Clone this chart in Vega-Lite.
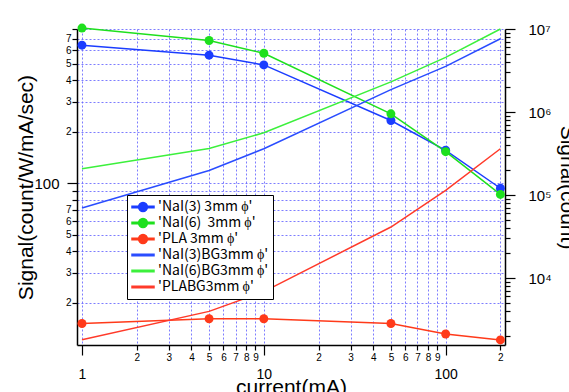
{
  "$schema": "https://vega.github.io/schema/vega-lite/v6.json",
  "width": 428,
  "height": 316,
  "autosize": "none",
  "padding": {"left": 77, "top": 29, "right": 64, "bottom": 47},
  "background": "white",
  "config": {
    "view": {"stroke": null},
    "axis": {
      "domainColor": "black",
      "domainWidth": 1.5,
      "tickColor": "black",
      "tickWidth": 1.2,
      "labelColor": "black",
      "labelFont": "Liberation Sans",
      "titleFont": "Liberation Sans",
      "titleFontWeight": "normal",
      "titleColor": "black",
      "gridColor": "#6666ff",
      "gridDash": [2, 2],
      "gridWidth": 1,
      "gridOpacity": 0.85
    }
  },
  "layer": [
    {
      "data": {
        "values": [
          {"current": 1, "signal": 643, "series": "'NaI(3) 3mm ϕ'"},
          {"current": 5, "signal": 562, "series": "'NaI(3) 3mm ϕ'"},
          {"current": 10, "signal": 493, "series": "'NaI(3) 3mm ϕ'"},
          {"current": 50, "signal": 233, "series": "'NaI(3) 3mm ϕ'"},
          {"current": 100, "signal": 156, "series": "'NaI(3) 3mm ϕ'"},
          {"current": 200, "signal": 93.5, "series": "'NaI(3) 3mm ϕ'"},
          {"current": 1, "signal": 810, "series": "'NaI(6)\u00a0 3mm ϕ'"},
          {"current": 5, "signal": 685, "series": "'NaI(6)\u00a0 3mm ϕ'"},
          {"current": 10, "signal": 577, "series": "'NaI(6)\u00a0 3mm ϕ'"},
          {"current": 50, "signal": 255, "series": "'NaI(6)\u00a0 3mm ϕ'"},
          {"current": 100, "signal": 153, "series": "'NaI(6)\u00a0 3mm ϕ'"},
          {"current": 200, "signal": 86, "series": "'NaI(6)\u00a0 3mm ϕ'"},
          {"current": 1, "signal": 15.1, "series": "'PLA 3mm ϕ'"},
          {"current": 5, "signal": 16.1, "series": "'PLA 3mm ϕ'"},
          {"current": 10, "signal": 16.1, "series": "'PLA 3mm ϕ'"},
          {"current": 50, "signal": 15.1, "series": "'PLA 3mm ϕ'"},
          {"current": 100, "signal": 13.1, "series": "'PLA 3mm ϕ'"},
          {"current": 200, "signal": 12.1, "series": "'PLA 3mm ϕ'"}
        ]
      },
      "mark": {"type": "line", "strokeWidth": 1.5, "point": {"filled": true, "size": 80, "opacity": 1}},
      "encoding": {
        "x": {
          "field": "current",
          "type": "quantitative",
          "scale": {"type": "log", "domain": [0.939, 212], "nice": false},
          "axis": {
            "title": "current(mA)",
            "titleFontSize": 21,
            "titleBaseline": "alphabetic",
            "titleY": 48,
            "values": [1, 2, 3, 4, 5, 6, 7, 8, 9, 10, 20, 30, 40, 50, 60, 70, 80, 90, 100, 200],
            "labelExpr": "(datum.value==1||datum.value==10||datum.value==100) ? ('' + datum.value) : ('' + round(datum.value/pow(10, floor(log(datum.value)/LN10 + 1e-9))))",
            "grid": true,
            "tickSize": {"condition": {"test": "datum.value==1||datum.value==10||datum.value==100", "value": 10}, "value": 5},
            "labelFontSize": {"condition": {"test": "datum.value==1||datum.value==10||datum.value==100", "value": 14}, "value": 10},
            "labelPadding": {"condition": {"test": "datum.value==1||datum.value==10||datum.value==100", "value": 12}, "value": 2},
            "labelFlush": false,
            "labelOverlap": false
          }
        },
        "y": {
          "field": "signal",
          "type": "quantitative",
          "scale": {"type": "log", "domain": [11.3, 800], "nice": false},
          "axis": {
            "title": "Signal(count/W/mA/sec)",
            "titleFontSize": 21,
            "titleBaseline": "alphabetic",
            "titleX": -45,
            "values": [20, 30, 40, 50, 60, 70, 80, 90, 100, 200, 300, 400, 500, 600, 700, 800],
            "labelExpr": "datum.value==100 ? '100' : (datum.value==80||datum.value==90||datum.value==800) ? '' : ('' + round(datum.value/pow(10, floor(log(datum.value)/LN10 + 1e-9))))",
            "grid": true,
            "tickSize": {"condition": {"test": "datum.value==100", "value": 10}, "value": 5},
            "labelFontSize": {"condition": {"test": "datum.value==100", "value": 15}, "value": 10},
            "labelPadding": {"condition": {"test": "datum.value==100", "value": 8}, "value": 1},
            "labelFlush": false,
            "labelOverlap": false
          }
        },
        "color": {
          "field": "series",
          "type": "nominal",
          "scale": {
            "domain": ["'NaI(3) 3mm ϕ'", "'NaI(6)\u00a0 3mm ϕ'", "'PLA 3mm ϕ'", "'NaI(3)BG3mm ϕ'", "'NaI(6)BG3mm ϕ'", "'PLABG3mm ϕ'"],
            "range": ["#1b3dff", "#1ee01e", "#ff3a1a", "#2a4dff", "#3cf03c", "#ff3a2a"]
          },
          "legend": {
            "orient": "none",
            "legendX": 50,
            "legendY": 166,
            "title": null,
            "strokeColor": "black",
            "fillColor": "white",
            "padding": 4,
            "cornerRadius": 0,
            "labelFont": "Noto Sans CJK JP",
            "labelFontSize": 14,
            "labelColor": "black",
            "labelLimit": 300,
            "symbolSize": 484,
            "clipHeight": 16,
            "rowPadding": 0,
            "labelOffset": 3,
            "encode": {
              "symbols": {
                "update": {
                  "shape": {"signal": "indexof(datum.value, 'BG') >= 0 ? 'M-1,-0.07H1V0.07H-1Z' : 'M-1,-0.07H1V0.07H-1Z M0.4,0A0.4,0.4 0 1,1 -0.4,0A0.4,0.4 0 1,1 0.4,0Z'"},
                  "fill": {"signal": "scale('color', datum.value)"},
                  "stroke": {"value": "transparent"},
                  "opacity": {"value": 1}
                }
              }
            }
          }
        }
      }
    },
    {
      "data": {
        "values": [
          {"current": 1, "signal": 69800, "series": "'NaI(3)BG3mm ϕ'"},
          {"current": 5, "signal": 198000, "series": "'NaI(3)BG3mm ϕ'"},
          {"current": 10, "signal": 361000, "series": "'NaI(3)BG3mm ϕ'"},
          {"current": 50, "signal": 1860000, "series": "'NaI(3)BG3mm ϕ'"},
          {"current": 100, "signal": 3550000, "series": "'NaI(3)BG3mm ϕ'"},
          {"current": 200, "signal": 7640000, "series": "'NaI(3)BG3mm ϕ'"},
          {"current": 1, "signal": 207600, "series": "'NaI(6)BG3mm ϕ'"},
          {"current": 5, "signal": 364000, "series": "'NaI(6)BG3mm ϕ'"},
          {"current": 10, "signal": 562000, "series": "'NaI(6)BG3mm ϕ'"},
          {"current": 50, "signal": 2310000, "series": "'NaI(6)BG3mm ϕ'"},
          {"current": 100, "signal": 4560000, "series": "'NaI(6)BG3mm ϕ'"},
          {"current": 200, "signal": 10000000, "series": "'NaI(6)BG3mm ϕ'"},
          {"current": 1, "signal": 1807, "series": "'PLABG3mm ϕ'"},
          {"current": 5, "signal": 3970, "series": "'PLABG3mm ϕ'"},
          {"current": 10, "signal": 6870, "series": "'PLABG3mm ϕ'"},
          {"current": 50, "signal": 41200, "series": "'PLABG3mm ϕ'"},
          {"current": 100, "signal": 113800, "series": "'PLABG3mm ϕ'"},
          {"current": 200, "signal": 361000, "series": "'PLABG3mm ϕ'"}
        ]
      },
      "mark": {"type": "line", "strokeWidth": 1.5},
      "encoding": {
        "x": {"field": "current", "type": "quantitative"},
        "y": {
          "field": "signal",
          "type": "quantitative",
          "scale": {"type": "log", "domain": [1563, 10000000], "nice": false},
          "axis": {
            "orient": "right",
            "title": "Signal(count)",
            "titleFontSize": 21,
            "titleBaseline": "alphabetic",
            "titleX": 55,
            "values": [2000, 3000, 4000, 5000, 6000, 7000, 8000, 9000, 10000, 20000, 30000, 40000, 50000, 60000, 70000, 80000, 90000, 100000, 200000, 300000, 400000, 500000, 600000, 700000, 800000, 900000, 1000000, 2000000, 3000000, 4000000, 5000000, 6000000, 7000000, 8000000, 9000000, 10000000],
            "labelExpr": "datum.value==10000 ? '10⁴' : datum.value==100000 ? '10⁵' : datum.value==1000000 ? '10⁶' : datum.value==10000000 ? '10⁷' : ''",
            "grid": false,
            "tickSize": {"condition": {"test": "datum.value==10000||datum.value==100000||datum.value==1000000||datum.value==10000000", "value": 10}, "value": 5},
            "labelFontSize": 15,
            "labelPadding": 13,
            "labelFlush": false,
            "labelOverlap": false
          }
        },
        "color": {"field": "series", "type": "nominal"}
      }
    }
  ],
  "resolve": {"scale": {"y": "independent"}}
}
